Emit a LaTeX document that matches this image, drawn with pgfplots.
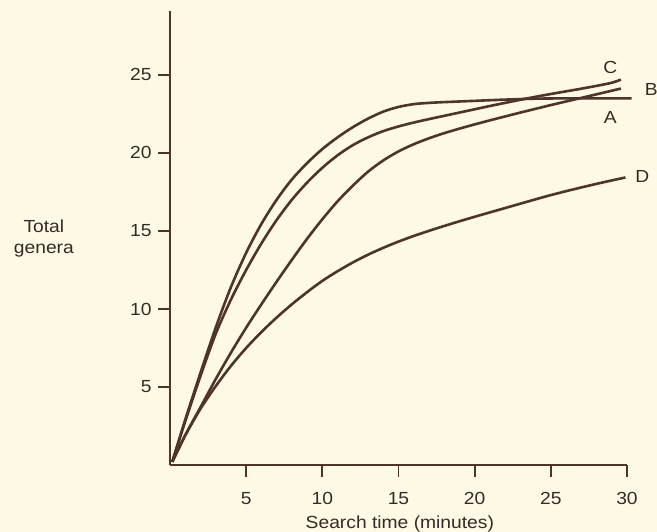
\documentclass[border=0pt]{standalone}
\usepackage{fontspec}
\setmainfont{Liberation Sans}[FakeStretch=1.1]
\usepackage{pgfplots}
\pgfplotsset{compat=1.18}
\definecolor{bg}{RGB}{253,249,228}
\definecolor{ink}{RGB}{78,52,42}
\definecolor{txt}{RGB}{55,42,38}
\newcommand{\lbl}{\fontsize{17.5}{21}\selectfont}
\begin{document}
\begin{tikzpicture}
\fill[bg] (-170pt,-67pt) rectangle (487pt,465pt);
\begin{axis}[
  scale only axis, width=457pt, height=454pt,
  xmin=0, xmax=30, ymin=0, ymax=29.1,
  axis lines=left,
  axis line style={ink, line width=2.4pt, -},
  xtick={5,10,...,30}, ytick={5,10,...,25},
  tick align=outside, major tick length=12pt,
  tick style={ink, line width=1.8pt},
  ticklabel style={font=\lbl, text=txt},
  xticklabel style={yshift=-12pt},
  yticklabel style={xshift=-3pt},
  /pgf/number format/assume math mode=true,
  xlabel={Search time (minutes)},
  xlabel style={font=\lbl, text=txt, at={(axis description cs:0.503,-0.13)}, anchor=center},
  ylabel={Total\\genera},
  ylabel style={font=\lbl, text=txt, rotate=-90, align=center, at={(axis description cs:-0.276,0.5)}, anchor=center},
  clip=false,
  cycle list={{ink}},
  every axis plot/.append style={line width=2.6pt, smooth, no marks},
]
% A
\addplot coordinates {(0.15,0.2) (1,2.9) (2,5.9) (3,8.8) (4,11.4) (5,13.6) (6,15.45) (7,17.0) (8,18.3) (9,19.35)
  (10,20.25) (11,21.0) (12,21.65) (13,22.2) (14,22.65) (15,22.95) (16,23.13) (17,23.21) (18,23.26) (19,23.3)
  (20,23.34) (22,23.42) (24,23.48) (26,23.5) (28,23.5) (30.3,23.5)};
% C
\addplot coordinates {(0.15,0.2) (1,2.8) (2,5.7) (3,8.4) (4,10.6) (5,12.5) (6,14.2) (7,15.7) (8,17.0) (9,18.1)
  (10,19.05) (11,19.85) (12,20.5) (13,21.0) (14,21.4) (15,21.7) (16,21.95) (17,22.17) (18,22.38) (19,22.59)
  (20,22.8) (21,23.01) (22,23.21) (23,23.41) (24,23.6) (25,23.78) (26,23.95) (27,24.12) (28,24.3) (29,24.5) (29.6,24.7)};
% B
\addplot coordinates {(0.15,0.2) (1,1.9) (2,3.7) (3,5.5) (4,7.2) (5,8.8) (6,10.3) (7,11.75) (8,13.15) (9,14.5)
  (10,15.75) (11,16.9) (12,17.9) (13,18.8) (14,19.52) (15,20.1) (16,20.56) (17,20.94) (18,21.27) (19,21.56)
  (20,21.83) (21,22.09) (22,22.34) (23,22.59) (24,22.83) (25,23.07) (26,23.3) (27,23.53) (28,23.76) (29,23.99) (29.6,24.13)};
% D
\addplot coordinates {(0.15,0.2) (1,1.9) (2,3.6) (3,5.05) (4,6.35) (5,7.5) (6,8.52) (7,9.45) (8,10.3) (9,11.08)
  (10,11.8) (11,12.42) (12,12.98) (13,13.48) (14,13.92) (15,14.32) (16,14.68) (17,15.01) (18,15.32) (19,15.62)
  (20,15.91) (21,16.19) (22,16.47) (23,16.75) (24,17.03) (25,17.3) (26,17.55) (27,17.79) (28,18.02) (29,18.24) (29.9,18.43)};
\node[font=\lbl, text=txt] at (axis cs:28.9,25.5) {C};
\node[font=\lbl, text=txt] at (axis cs:31.6,24.06) {B};
\node[font=\lbl, text=txt] at (axis cs:28.9,22.3) {A};
\node[font=\lbl, text=txt] at (axis cs:31.0,18.5) {D};
\end{axis}
\pgfresetboundingbox
\useasboundingbox (-170pt,-67pt) rectangle (487pt,465pt);
\end{tikzpicture}
\end{document}
